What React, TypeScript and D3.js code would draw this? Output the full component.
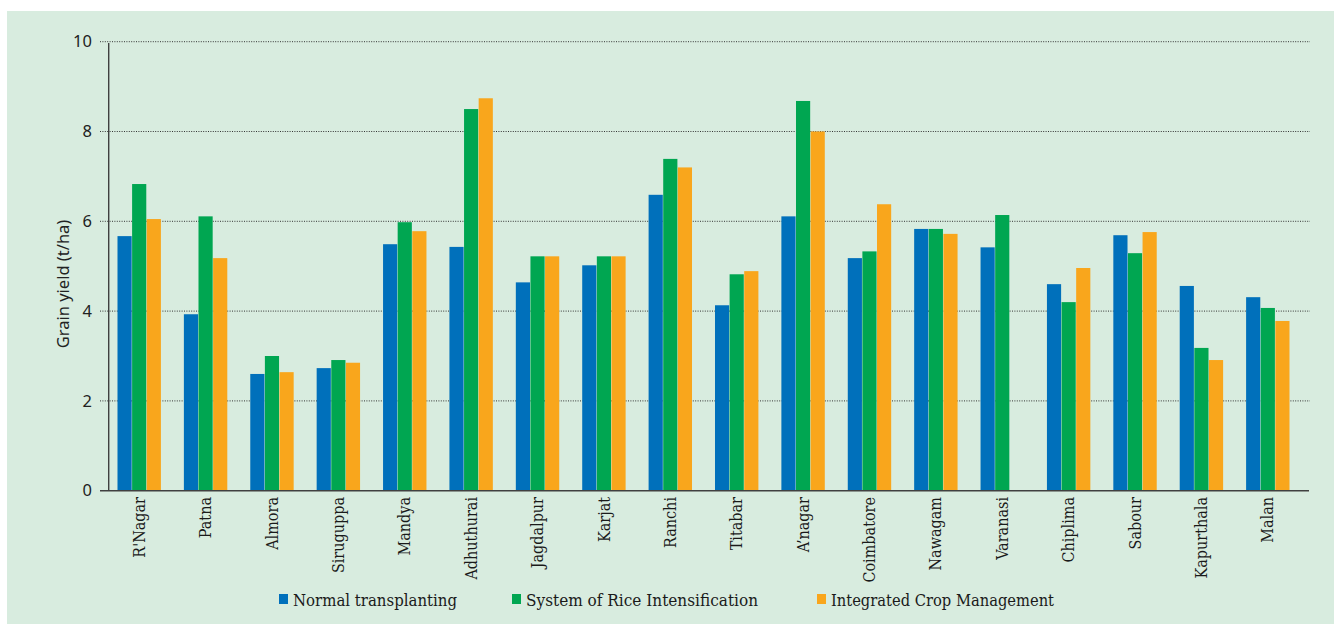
import { useEffect, useRef } from "react";
import * as d3 from "d3";

const sites = [
  "R'Nagar", "Patna", "Almora", "Siruguppa", "Mandya", "Adhuthurai", "Jagdalpur", "Karjat", "Ranchi",
  "Titabar", "A\u2019nagar", "Coimbatore", "Nawagam", "Varanasi", "Chiplima", "Sabour", "Kapurthala", "Malan",
];
const seriesNames = ["Normal transplanting", "System of Rice Intensification", "Integrated Crop Management"];
const normal = [5.67, 3.93, 2.6, 2.73, 5.49, 5.43, 4.64, 5.02, 6.59, 4.13, 6.11, 5.18, 5.83, 5.42, 4.6, 5.69, 4.56, 4.31];
const sri = [6.83, 6.11, 3.0, 2.91, 5.98, 8.5, 5.22, 5.22, 7.39, 4.82, 8.68, 5.33, 5.83, 6.14, 4.2, 5.29, 3.18, 4.07];
const icm = [6.05, 5.18, 2.64, 2.85, 5.78, 8.74, 5.22, 5.22, 7.2, 4.89, 8.0, 6.38, 5.72, null, 4.96, 5.76, 2.91, 3.78];
const yTicks = [0, 2, 4, 6, 8, 10];
const colors = ["#0070bb", "#00a651", "#f9a61c"];

const W = 1334;
const H = 624;

const App = () => {
  const ref = useRef<SVGSVGElement | null>(null);

  useEffect(() => {
    document.body.style.margin = "0";
    draw();
  }, []);

  const draw = () => {
    const svg = d3.select(ref.current);
    svg.selectAll("*").remove();

    svg.append("rect").attr("x", 7).attr("y", 11).attr("width", W - 7).attr("height", H - 11).attr("fill", "#d8ecdf");

    const x = d3.scaleBand().domain(sites).range([106, 1301]);
    const xSub = d3.scaleBand().domain(seriesNames).range([-21.7, 21.7]).paddingInner(0.03);
    const y = d3.scaleLinear().domain([0, 10]).range([490.7, 41.7]);

    // grid
    const grid = svg.append("g");
    grid
      .selectAll("line")
      .data(yTicks.filter((d) => d > 0))
      .join("line")
      .attr("x1", 100)
      .attr("x2", 1310)
      .attr("y1", (d) => y(d))
      .attr("y2", (d) => y(d))
      .attr("stroke", "#333")
      .attr("stroke-width", 1)
      .attr("stroke-dasharray", "1,1.4");

    // tick labels
    svg
      .append("g")
      .selectAll("text")
      .data(yTicks)
      .join("text")
      .attr("x", 92)
      .attr("y", (d) => y(d))
      .attr("dy", "0.35em")
      .attr("text-anchor", "end")
      .attr("font-family", "'Noto Sans', sans-serif")
      .attr("font-size", 16.5)
      .attr("fill", "#222")
      .text((d) => d);

    // bars
    const all = [normal, sri, icm];
    const bars = svg.append("g");
    all.forEach((vals, si) => {
      bars
        .append("g")
        .selectAll("rect")
        .data(sites.map((s, i) => ({ s, v: vals[i] })).filter((d) => d.v != null))
        .join("rect")
        .attr("x", (d) => (x(d.s) as number) + x.bandwidth() / 2 + (xSub(seriesNames[si]) as number))
        .attr("width", xSub.bandwidth())
        .attr("y", (d) => y(d.v as number))
        .attr("height", (d) => y(0) - y(d.v as number))
        .attr("fill", colors[si]);
    });

    // axes
    svg.append("line").attr("x1", 108.7).attr("x2", 108.7).attr("y1", 43).attr("y2", y(0)).attr("stroke", "#404040").attr("stroke-width", 1.4);
    svg.append("line").attr("x1", 100).attr("x2", 1309).attr("y1", y(0)).attr("y2", y(0)).attr("stroke", "#404040").attr("stroke-width", 1.6);

    // x labels
    svg
      .append("g")
      .selectAll("text")
      .data(sites)
      .join("text")
      .attr("transform", (d) => `translate(${(x(d) as number) + x.bandwidth() / 2},497) rotate(-90)`)
      .attr("dy", "0.35em")
      .attr("text-anchor", "end")
      .attr("font-family", "'DejaVu Serif Condensed', 'DejaVu Serif', serif")
      .attr("font-stretch", "condensed")
      .attr("font-size", 16)
      .attr("fill", "#1a1a1a")
      .text((d) => d);

    // y title
    svg
      .append("text")
      .attr("transform", `translate(63,284) rotate(-90)`)
      .attr("dy", "0.35em")
      .attr("text-anchor", "middle")
      .attr("font-family", "'Noto Sans', sans-serif")
      .attr("font-size", 16.5)
      .attr("fill", "#222")
      .text("Grain yield (t/ha)");

    // legend
    const legendX = [279, 512, 817];
    const legendW = [164, 232, 223];
    const lg = svg.append("g");
    seriesNames.forEach((name, i) => {
      lg.append("rect").attr("x", legendX[i]).attr("y", 594).attr("width", 9).attr("height", 10).attr("fill", colors[i]);
      lg.append("text")
        .attr("x", legendX[i] + 14)
        .attr("y", 600)
        .attr("dy", "0.35em")
        .attr("font-family", "'DejaVu Serif Condensed', 'DejaVu Serif', serif")
        .attr("font-stretch", "condensed")
        .attr("font-size", 17)
        .attr("fill", "#1a1a1a")
        .attr("textLength", legendW[i])
        .attr("lengthAdjust", "spacingAndGlyphs")
        .text(name);
    });
  };

  return <svg ref={ref} width={W} height={H} style={{ display: "block" }} />;
};

export default App;
